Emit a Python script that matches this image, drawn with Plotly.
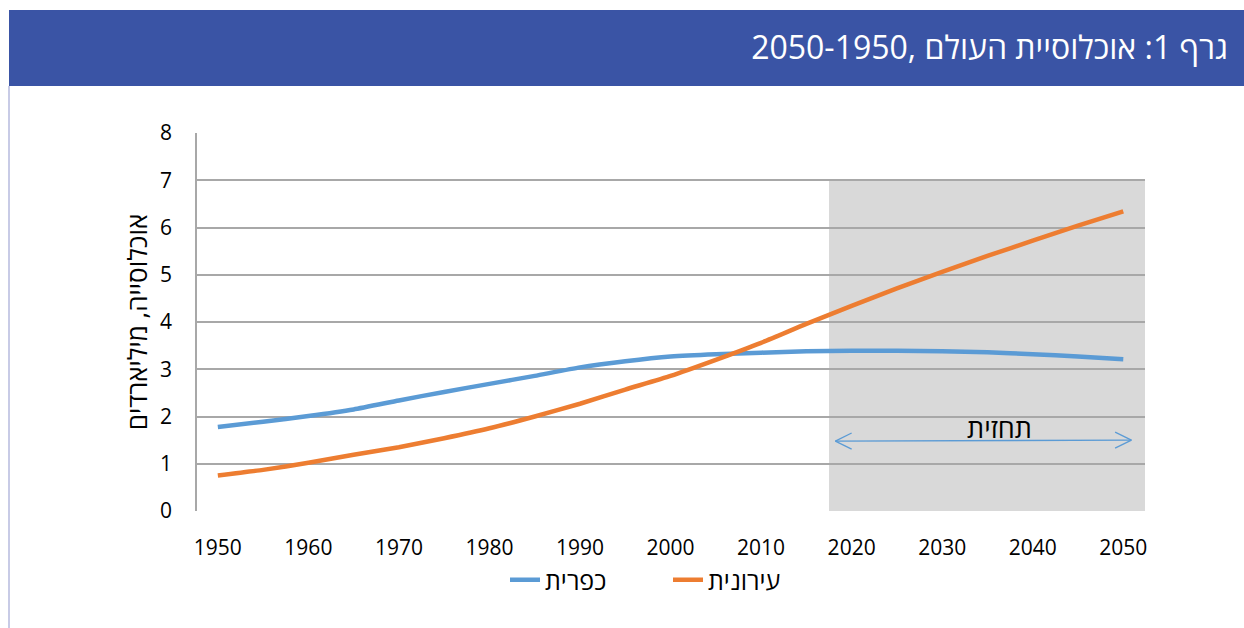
import plotly.graph_objects as go

# World population by area type, billions (5-year steps, 2020 onward projected)
years = list(range(1950, 2051, 5))
rural = [1.78, 1.89, 2.01, 2.15, 2.34, 2.52, 2.69, 2.86, 3.04, 3.17, 3.27,
         3.32, 3.35, 3.38, 3.39, 3.39, 3.38, 3.36, 3.32, 3.27, 3.21]
urban = [0.75, 0.87, 1.02, 1.19, 1.35, 1.54, 1.75, 2.00, 2.27, 2.57, 2.86,
         3.20, 3.56, 3.96, 4.34, 4.71, 5.06, 5.40, 5.72, 6.04, 6.34]

series_names = ["כפרית", "עירונית"]
title_text = "גרף 1: אוכלוסיית העולם ,2050-1950"
y_title = "אוכלוסייה, מיליארדים"
forecast_label = "תחזית"
forecast_start = 2017.5

x_ticks = list(range(1950, 2051, 10))
y_ticks = list(range(0, 9))

W, H = 1244, 628
L, R, T, B = 197, 1145, 133, 511   # plot area in pixels

FONT = "Open Sans, Liberation Sans, DejaVu Sans, sans-serif"
BLUE = "#5B9BD5"
ORANGE = "#ED7D31"
GRID = "#A8A8A8"


def px_x(p):
    return (p - L) / (R - L)


def px_y(p):
    return (B - p) / (B - T)


fig = go.Figure()
fig.add_trace(go.Scatter(x=years, y=rural, name=series_names[0], mode="lines",
                         line=dict(color=BLUE, width=4.5, shape="spline", smoothing=0.5)))
fig.add_trace(go.Scatter(x=years, y=urban, name=series_names[1], mode="lines",
                         line=dict(color=ORANGE, width=4.5, shape="spline", smoothing=0.5)))

shapes = [
    # header bar
    dict(type="rect", xref="paper", yref="paper", x0=px_x(9), x1=px_x(W + 5),
         y0=px_y(86), y1=px_y(10), fillcolor="#3A54A5", line_width=0, layer="below"),
    # left frame line
    dict(type="line", xref="paper", yref="paper", x0=px_x(9), x1=px_x(9),
         y0=px_y(86), y1=px_y(H + 5), line=dict(color="#C8CBE6", width=2)),
    # projection period background
    dict(type="rect", xref="x", yref="y", x0=forecast_start, x1=2052.4, y0=0, y1=7,
         fillcolor="#D9D9D9", line_width=0, layer="below"),
]

# double-headed arrow across the projection period
ay = 1.48
ax0, ax1 = 2018.2, 2050.9
shapes.append(dict(type="line", xref="x", yref="y", x0=ax0, x1=ax1, y0=ay, y1=ay + 0.02,
                   line=dict(color=BLUE, width=1.3)))
for tip, d in ((ax0, 1), (ax1, -1)):
    yy = ay + (0.02 if d < 0 else 0)
    shapes.append(dict(type="line", xref="x", yref="y", x0=tip, x1=tip + d * 1.8,
                       y0=yy, y1=yy + 0.17, line=dict(color=BLUE, width=1.3)))
    shapes.append(dict(type="line", xref="x", yref="y", x0=tip, x1=tip + d * 1.8,
                       y0=yy, y1=yy - 0.17, line=dict(color=BLUE, width=1.3)))

fig.update_layout(
    width=W, height=H,
    margin=dict(l=L, r=W - R, t=T, b=H - B, pad=0, autoexpand=False),
    paper_bgcolor="white", plot_bgcolor="white",
    font=dict(family=FONT, color="#000000"),
    shapes=shapes,
    title=dict(text=title_text, xref="container", yref="container",
               x=1228 / W, xanchor="right", y=1 - 48 / H, yanchor="middle",
               font=dict(size=32, color="white", family=FONT)),
    annotations=[dict(text=forecast_label, xref="x", yref="y", x=2036.3,
                      y=(B - 427) / ((B - T) / 8), showarrow=False,
                      font=dict(size=27, color="#000000"))],
    legend=dict(orientation="h", xref="paper", yref="paper",
                x=px_x(505), xanchor="left", y=px_y(580), yanchor="middle",
                font=dict(size=25), entrywidth=118, entrywidthmode="pixels",
                bgcolor="rgba(0,0,0,0)"),
    showlegend=True,
)

fig.update_xaxes(range=[1947.7, 2052.4], tickvals=x_ticks, showgrid=False,
                 zeroline=False, showline=False, ticks="", automargin=False,
                 tickfont=dict(size=21), ticklabelstandoff=22)
fig.update_yaxes(range=[0, 8], tickvals=y_ticks, showgrid=True, gridcolor=GRID,
                 gridwidth=1.6, zeroline=False, showline=True, linecolor=GRID,
                 linewidth=1.6, ticks="", tickfont=dict(size=21), automargin=False,
                 ticklabelstandoff=19,
                 title=dict(text=y_title, font=dict(size=26), standoff=5))

fig.write_html("out.html")
